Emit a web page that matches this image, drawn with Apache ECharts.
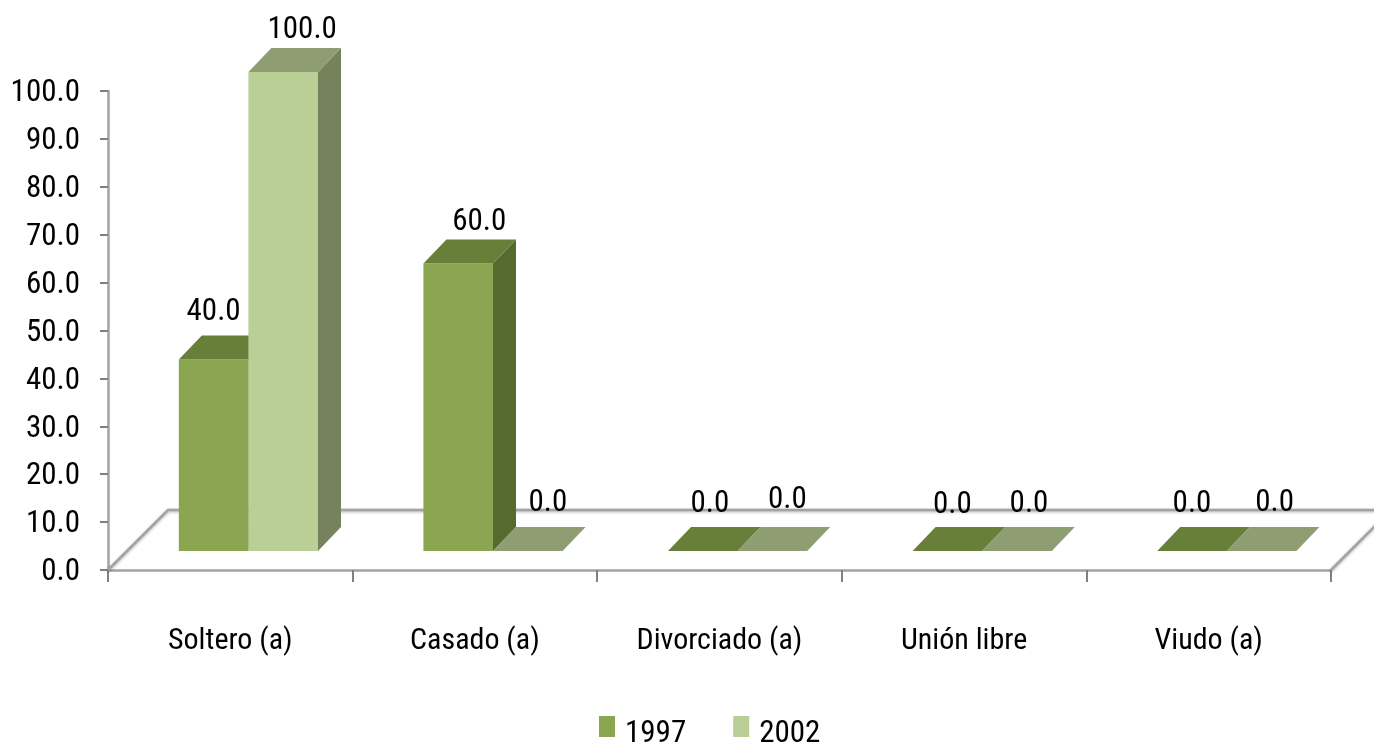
<!DOCTYPE html>
<html>
<head>
<meta charset="utf-8">
<style>
    html, body { margin: 0; padding: 0; background: #fff; }
    #chart { width: 1374px; height: 743px; }
</style>
<script src="https://cdn.jsdelivr.net/npm/echarts@6/dist/echarts.min.js"></script>
</head>
<body>
<div id="chart"></div>
<script>
var categories = ['Soltero (a)', 'Casado (a)', 'Divorciado (a)', 'Unión libre', 'Viudo (a)'];
var values1997 = [40, 60, 0, 0, 0];
var values2002 = [100, 0, 0, 0, 0];
var tickLabels = ['0.0', '10.0', '20.0', '30.0', '40.0', '50.0', '60.0', '70.0', '80.0', '90.0', '100.0'];

var font = '"Roboto Condensed", Roboto, sans-serif';
var fontSize = 31;

// desplazamientos de la vista 3D
var floorDepth = 60;
var barDepthX = 23;
var barDepthY = 24;
var liftY = 19; // las barras se apoyan por encima de la linea del eje

// las etiquetas estan movidas a mano en el original: [dx, dy] desde la cara trasera
var labelShift1997 = [[0, -23], [21, -17], [7, -23], [5, -22], [0, -23]];
var labelShift2002 = [[19, -18], [20, -24], [15, -27], [12, -23], [13, -24]];

function barRenderer(slot, colors, shifts) {
    return function(params, api) {
        var idx = api.value(0);
        var center = api.coord([idx, 0])[0];
        var bandWidth = api.size([1, 0])[0];
        var barWidth = bandWidth * 0.2845;
        var left = center + bandWidth * 0.074 + (slot - 1) * barWidth;
        var right = left + barWidth;
        var top = api.coord([idx, api.value(1)])[1] - liftY;
        var bottom = api.coord([idx, 0])[1] - liftY;
        var children = [];
        if (bottom - top > 0.5) {
            children.push({
                type: 'polygon',
                shape: { points: [[right, top], [right + barDepthX, top - barDepthY], [right + barDepthX, bottom - barDepthY], [right, bottom]] },
                style: { fill: colors.side }
            });
            children.push({
                type: 'rect',
                shape: { x: left, y: top, width: barWidth, height: bottom - top },
                style: { fill: colors.front }
            });
        }
        children.push({
            type: 'polygon',
            shape: { points: [[left, top], [left + barDepthX, top - barDepthY], [right + barDepthX, top - barDepthY], [right, top]] },
            style: { fill: colors.top }
        });
        children.push({
            type: 'text',
            z2: 10,
            style: {
                text: api.value(1).toFixed(1),
                x: (left + right) / 2 + shifts[idx][0],
                y: top - barDepthY + shifts[idx][1],
                align: 'center',
                verticalAlign: 'middle',
                font: fontSize + 'px ' + font,
                fill: '#000'
            }
        });
        return { type: 'group', children: children };
    };
}

function floorRenderer(params, api) {
    var left = params.coordSys.x;
    var right = left + params.coordSys.width;
    var front = params.coordSys.y + params.coordSys.height;
    var back = front - floorDepth;
    return {
        type: 'polyline',
        shape: { points: [[left, front], [left + floorDepth, back], [right + floorDepth, back], [right, front]] },
        style: {
            fill: 'none',
            stroke: '#a3a3a3',
            lineWidth: 2.5,
            shadowBlur: 3,
            shadowColor: 'rgba(0,0,0,0.3)',
            shadowOffsetY: 1
        }
    };
}

function pairs(list) {
    return list.map(function(v, i) { return [i, v]; });
}

var chart = echarts.init(document.getElementById('chart'));
var option = {
    animation: false,
    backgroundColor: '#fff',
    grid: { left: 108, right: 43, top: 91, bottom: 173 },
    legend: {
        data: ['1997', '2002'],
        left: 594,
        top: 711,
        icon: 'rect',
        itemWidth: 16,
        itemHeight: 21,
        itemGap: 47,
        formatter: '{t|{name}}',
        textStyle: {
            rich: {
                t: { fontFamily: font, fontSize: fontSize, color: '#000', padding: [15, 0, 0, 5] }
            }
        }
    },
    xAxis: {
        type: 'category',
        data: categories,
        axisLine: { lineStyle: { color: '#a3a3a3', width: 2.5 } },
        axisTick: { show: true, length: 12, lineStyle: { color: '#808080', width: 2 } },
        axisLabel: { margin: 56, fontFamily: font, fontSize: 30, color: '#000', interval: 0 }
    },
    yAxis: {
        type: 'value',
        min: 0,
        max: 100,
        interval: 10,
        splitLine: { show: false },
        axisLine: { show: true, lineStyle: { color: '#a3a3a3', width: 2.5 } },
        axisTick: { show: true, length: 8, lineStyle: { color: '#808080', width: 2 } },
        axisLabel: {
            margin: 28,
            formatter: function(v) { return '{n|' + tickLabels[v / 10] + '}'; },
            rich: {
                n: { fontFamily: font, fontSize: fontSize, color: '#000', padding: [5, 0, 0, 0] }
            }
        }
    },
    series: [{
        type: 'custom',
        name: 'piso',
        z: 1,
        silent: true,
        clip: false,
        renderItem: floorRenderer,
        data: [[0, 0]]
    }, {
        type: 'custom',
        name: '1997',
        z: 2,
        clip: false,
        itemStyle: { color: '#8aa650' },
        renderItem: barRenderer(0, { front: '#8aa650', top: '#677f39', side: '#566a2f' }, labelShift1997),
        encode: { x: 0, y: 1 },
        data: pairs(values1997)
    }, {
        type: 'custom',
        name: '2002',
        z: 3,
        clip: false,
        itemStyle: { color: '#b9cf95' },
        renderItem: barRenderer(1, { front: '#b9cf95', top: '#8e9d72', side: '#75825c' }, labelShift2002),
        encode: { x: 0, y: 1 },
        data: pairs(values2002)
    }]
};
chart.setOption(option);
</script>
</body>
</html>
